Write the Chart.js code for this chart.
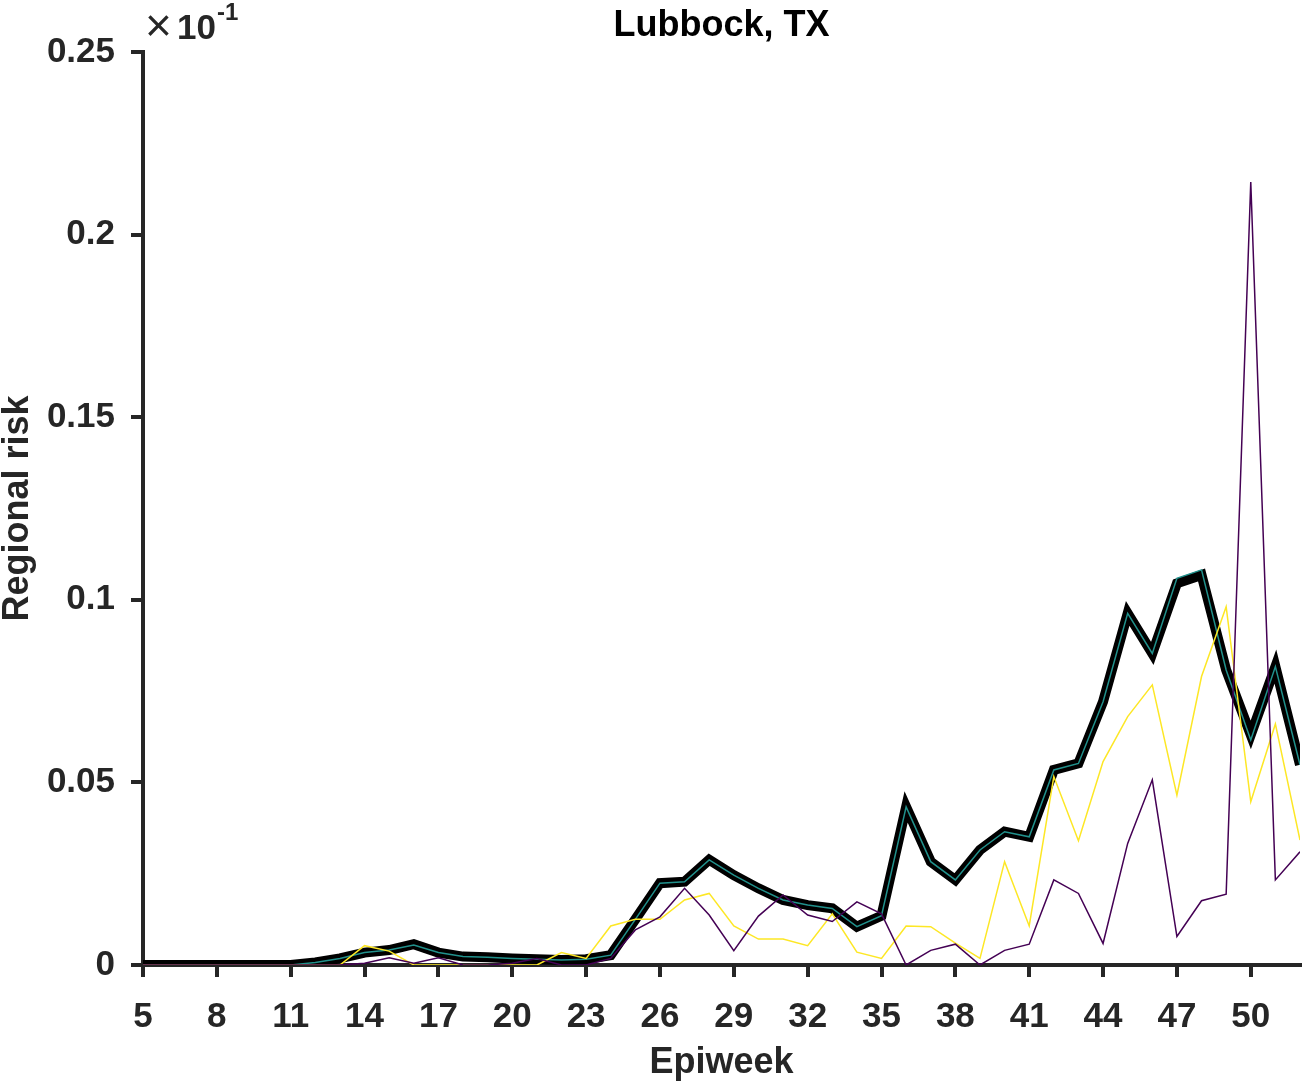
<!DOCTYPE html>
<html>
<head>
<meta charset="utf-8">
<script src="https://cdn.jsdelivr.net/npm/chart.js@4"></script>
<style>
  body { margin: 0; background: #fff; }
  #wrap { width: 1310px; height: 1086px; }
</style>
</head>
<body>
<div id="wrap"><canvas id="riskChart" width="1310" height="1086"></canvas></div>
<script>
// epiweeks 5..52
const weeks = [5,6,7,8,9,10,11,12,13,14,15,16,17,18,19,20,21,22,23,24,25,26,27,28,
  29,30,31,32,33,34,35,36,37,38,39,40,41,42,43,44,45,46,47,48,49,50,51,52];

const meanRisk = [0,0,0,0,0,0,0,0.0007,0.0018,0.0034,0.0041,0.0057,0.0034,0.0023,0.0021,0.0018,
  0.0016,0.0014,0.0016,0.0027,0.0125,0.0224,0.0228,0.0288,0.0246,0.021,0.0178,0.0164,0.0155,0.0105,
  0.0135,0.0433,0.0283,0.0233,0.0315,0.0365,0.0351,0.0534,0.0552,0.0721,0.0963,0.0853,0.1045,0.1068,
  0.0808,0.063,0.0817,0.0548];

const tealRisk = [0,0,0,0,0,0,0,0.0007,0.0018,0.0034,0.0041,0.0055,0.0034,0.0023,0.0021,0.0018,
  0.0016,0.0014,0.0016,0.0027,0.0125,0.0224,0.0228,0.0288,0.0246,0.021,0.0178,0.0164,0.0155,0.0105,
  0.0135,0.0433,0.0283,0.0233,0.0315,0.0365,0.0351,0.0534,0.0552,0.0721,0.0963,0.0853,0.1059,0.1082,
  0.0808,0.0616,0.0817,0.0548];

const yellowRisk = [0,0,0,0,0,0,0,0,0,0.0053,0.0038,0,0,0,0,0,
  0,0.0034,0.0018,0.0107,0.0125,0.0125,0.0178,0.0196,0.0107,0.0071,0.0071,0.0053,0.014,0.0035,
  0.0018,0.0107,0.0105,0.006,0.0018,0.0283,0.0107,0.0516,0.034,0.0557,0.068,0.0767,0.0465,0.079,
  0.0981,0.0447,0.066,0.0342];

const purpleRisk = [0,0,0,0,0,0,0,0,0,0.0005,0.002,0.0005,0.002,0,0,0.0005,
  0.0018,0,0,0.0018,0.0096,0.0132,0.021,0.0137,0.0039,0.0134,0.0192,0.0137,0.0119,0.0173,
  0.014,0,0.004,0.0057,0,0.004,0.0057,0.0233,0.0196,0.0059,0.0333,0.0507,0.0078,0.0176,
  0.0194,0.2144,0.0233,0.031];

const xTicks = [5,8,11,14,17,20,23,26,29,32,35,38,41,44,47,50];
const yTicks = [0,0.05,0.1,0.15,0.2,0.25];
const yTickLabels = ['0','0.05','0.1','0.15','0.2','0.25'];

const axisColor = '#262626';
const fontFam = '"Liberation Sans", Arial, Helvetica, sans-serif';

function pts(vals) {
  return weeks.map((w, i) => ({ x: w, y: vals[i] }));
}

// title + x10^-1 exponent, drawn by hand like matlab does
const extras = {
  id: 'extras',
  afterDraw(chart) {
    const c = chart.ctx;
    const a = chart.chartArea;
    c.save();
    c.fillStyle = '#000';
    c.font = 'bold 36px ' + fontFam;
    c.textAlign = 'center';
    c.textBaseline = 'alphabetic';
    c.fillText('Lubbock, TX', (a.left + a.right) / 2, 36);

    c.fillStyle = axisColor;
    c.textAlign = 'left';
    c.font = '46px ' + fontFam;
    c.fillText('\u00d7', a.left + 2, 41);
    c.font = 'bold 35px ' + fontFam;
    c.fillText('10', a.left + 34, 39);
    c.font = 'bold 24px ' + fontFam;
    c.fillText('-1', a.left + 74, 20);
    c.restore();
  }
};

const ctx = document.getElementById('riskChart').getContext('2d');
let riskChart = new Chart(ctx, {
  type: 'line',
  data: {
    datasets: [
      { data: pts(purpleRisk), borderColor: '#440154', borderWidth: 1.5, order: 1 },
      { data: pts(yellowRisk), borderColor: '#fde725', borderWidth: 1.5, order: 2 },
      { data: pts(tealRisk), borderColor: '#21918c', borderWidth: 1.5, order: 3 },
      { data: pts(meanRisk), borderColor: '#000000', borderWidth: 10, order: 4 }
    ]
  },
  options: {
    responsive: false,
    animation: false,
    layout: { padding: { left: 0, right: 10, top: 52, bottom: 0 } },
    elements: {
      point: { radius: 0 },
      line: { tension: 0, fill: false }
    },
    plugins: {
      legend: { display: false },
      tooltip: { enabled: false },
      title: { display: false }
    },
    scales: {
      x: {
        type: 'linear',
        min: 5,
        max: 52,
        afterBuildTicks: s => { s.ticks = xTicks.map(v => ({ value: v })); },
        afterFit: s => { s.height = 121; },
        border: { display: true, color: axisColor, width: 4 },
        grid: { display: true, drawOnChartArea: false, drawTicks: true, tickLength: 12, color: axisColor, lineWidth: 4 },
        ticks: {
          color: axisColor,
          padding: 19,
          maxRotation: 0,
          autoSkip: false,
          font: { family: fontFam, size: 35, weight: 'bold' },
          callback: v => String(v)
        },
        title: {
          display: true,
          text: 'Epiweek',
          color: axisColor,
          padding: { top: 0, bottom: 5 },
          font: { family: fontFam, size: 36, weight: 'bold', lineHeight: 1 }
        }
      },
      y: {
        min: 0,
        max: 0.25,
        afterBuildTicks: s => { s.ticks = yTicks.map(v => ({ value: v })); },
        afterFit: s => { s.width = 143; },
        border: { display: true, color: axisColor, width: 4 },
        grid: { display: true, drawOnChartArea: false, drawTicks: true, tickLength: 12, color: axisColor, lineWidth: 4 },
        ticks: {
          color: axisColor,
          padding: 16,
          autoSkip: false,
          font: { family: fontFam, size: 35, weight: 'bold' },
          callback: (v, i) => yTickLabels[i]
        },
        title: {
          display: true,
          text: 'Regional risk',
          color: axisColor,
          padding: { top: 0, bottom: 0 },
          font: { family: fontFam, size: 36, weight: 'bold', lineHeight: 1 }
        }
      }
    }
  },
  plugins: [extras]
});
</script>
</body>
</html>
